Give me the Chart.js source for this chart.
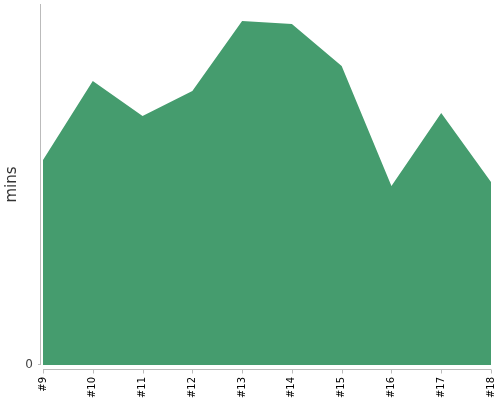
<!DOCTYPE html>
<html>
<head>
<meta charset="utf-8">
<script src="https://cdn.jsdelivr.net/npm/chart.js@4/dist/chart.umd.min.js"></script>
<style>
  html, body { margin: 0; padding: 0; background: #fff; }
  #wrap { width: 500px; height: 400px; position: relative; }
</style>
</head>
<body>
<div id="wrap"><canvas id="minsChart"></canvas></div>
<script>
const categories = ['#9', '#10', '#11', '#12', '#13', '#14', '#15', '#16', '#17', '#18'];
const minsValues = [20.5, 28.4, 24.9, 27.4, 34.4, 34.1, 29.9, 17.9, 25.2, 18.3];
const yTickValues = [0];
const yMax = 36.1;

const axisColor = '#bbbbbb';

// axis lines sit a few pixels away from the plot, so draw them here
const offsetAxes = {
    id: 'offsetAxes',
    afterDraw(chart) {
        const ctx = chart.ctx;
        const area = chart.chartArea;
        const x = chart.scales.x;
        const y = chart.scales.y;
        ctx.save();
        ctx.strokeStyle = axisColor;
        ctx.lineWidth = 1;
        ctx.beginPath();
        ctx.moveTo(area.left - 2.5, area.top);
        ctx.lineTo(area.left - 2.5, area.bottom);
        ctx.moveTo(area.left, area.bottom + 4.5);
        ctx.lineTo(area.right, area.bottom + 4.5);
        categories.forEach((c, i) => {
            const px = Math.round(x.getPixelForValue(i)) + 0.5;
            ctx.moveTo(px, area.bottom + 4.5);
            ctx.lineTo(px, area.bottom + 8.5);
        });
        yTickValues.forEach(v => {
            const py = Math.round(y.getPixelForValue(v)) - 0.5;
            ctx.moveTo(area.left - 5, py);
            ctx.lineTo(area.left - 2.5, py);
        });
        ctx.stroke();
        ctx.restore();
    }
};

document.addEventListener('DOMContentLoaded', () => {
    const ctx = document.getElementById('minsChart').getContext('2d');
    new Chart(ctx, {
        type: 'line',
        data: {
            labels: categories,
            datasets: [
                {
                    label: 'mins',
                    data: minsValues,
                    backgroundColor: '#459c6e',
                    borderColor: '#459c6e',
                    borderWidth: 0,
                    pointRadius: 0,
                    tension: 0,
                    fill: 'origin'
                }
            ]
        },
        options: {
            responsive: true,
            maintainAspectRatio: false,
            animation: false,
            layout: {padding: {top: 4, right: 9, left: 0, bottom: 0}},
            plugins: {
                legend: {display: false},
                tooltip: {enabled: false}
            },
            scales: {
                x: {
                    grid: {display: false, drawTicks: false},
                    border: {display: false},
                    ticks: {
                        autoSkip: false,
                        minRotation: 90,
                        maxRotation: 90,
                        padding: 12,
                        color: '#000',
                        font: {family: 'DejaVu Sans', size: 10}
                    },
                    afterFit(scale) {
                        scale.height = 35;
                        scale.paddingLeft = 0;
                        scale.paddingRight = 0;
                    }
                },
                y: {
                    min: 0,
                    max: yMax,
                    grid: {display: false, drawTicks: false},
                    border: {display: false},
                    afterBuildTicks(scale) {
                        scale.ticks = yTickValues.map(v => ({value: v}));
                    },
                    ticks: {
                        padding: 10,
                        color: '#444',
                        font: {family: 'DejaVu Sans', size: 12}
                    },
                    title: {
                        display: true,
                        text: 'mins',
                        color: '#333',
                        font: {family: 'DejaVu Sans', size: 15},
                        padding: {top: 3, bottom: 4}
                    },
                    afterFit(scale) {
                        scale.width = 43;
                        scale.paddingTop = 0;
                        scale.paddingBottom = 0;
                    }
                }
            }
        },
        plugins: [offsetAxes]
    });
});
</script>
</body>
</html>
